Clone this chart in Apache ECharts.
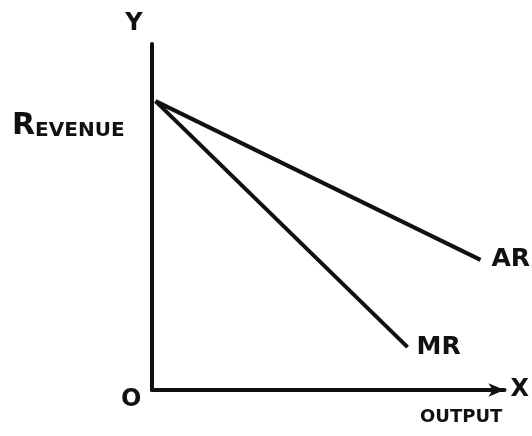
<!DOCTYPE html>
<html>
<head>
<meta charset="utf-8">
<script src="https://cdn.jsdelivr.net/npm/echarts@6/dist/echarts.min.js"></script>
<style>
  html, body { margin: 0; padding: 0; background: #fff; }
  #chart { width: 532px; height: 436px; }
</style>
</head>
<body>
<div id="chart"></div>
<script>
// curve data (output, revenue) on a 0..100 scale
const arPoints = [[1, 83.5], [93.2, 37.6]];
const mrPoints = [[1, 83.5], [72.5, 12.4]];
const curveNames = ["AR", "MR"];

const chart = echarts.init(document.getElementById("chart"));
const ink = "#111";
const hand = "'DejaVu Sans', sans-serif";

chart.setOption({
  backgroundColor: "#fff",
  animation: false,
  grid: { left: 152, right: 27, top: 44, bottom: 46 },
  xAxis: {
    type: "value",
    min: 0,
    max: 100,
    name: "X",
    nameGap: 6,
    nameTextStyle: { color: ink, fontSize: 24, fontFamily: hand, fontWeight: "bold", verticalAlign: "middle", padding: [0, 0, 10, 0] },
    axisLine: {
      show: true,
      symbol: ["none", "arrow"],
      symbolSize: [10, 16],
      lineStyle: { color: ink, width: 4 },
    },
    axisTick: { show: false },
    axisLabel: { show: false },
    splitLine: { show: false },
  },
  yAxis: {
    type: "value",
    min: 0,
    max: 100,
    name: "Y",
    nameGap: 8,
    nameTextStyle: { color: ink, fontSize: 24, fontFamily: hand, fontWeight: "bold", padding: [0, 36, 0, 0] },
    axisLine: { show: true, lineStyle: { color: ink, width: 4 } },
    axisTick: { show: false },
    axisLabel: { show: false },
    splitLine: { show: false },
  },
  graphic: [
    {
      type: "text",
      left: 12,
      top: 111,
      style: {
        text: "{b|R}{s|EVENUE}",
        rich: {
          b: { fontSize: 30, fontFamily: hand, fill: ink, fontWeight: "bold", verticalAlign: "bottom" },
          s: { fontSize: 20, fontFamily: hand, fill: ink, fontWeight: "bold", verticalAlign: "bottom" },
        },
      },
    },
    {
      type: "text",
      left: 121,
      top: 388,
      style: { text: "O", fontSize: 24, fontFamily: hand, fontWeight: "bold", fill: ink },
    },
    {
      type: "text",
      left: 420,
      top: 408,
      style: { text: "OUTPUT", fontSize: 18, fontFamily: hand, fontWeight: "bold", fill: ink },
    },
  ],
  series: [
    {
      name: curveNames[0],
      type: "line",
      data: arPoints,
      showSymbol: false,
      lineStyle: { color: ink, width: 4 },
      endLabel: {
        show: true,
        formatter: curveNames[0],
        color: ink,
        fontSize: 25,
        fontWeight: "bold",
        fontFamily: hand,
        distance: 11,
      },
    },
    {
      name: curveNames[1],
      type: "line",
      data: mrPoints,
      showSymbol: false,
      lineStyle: { color: ink, width: 4 },
      endLabel: {
        show: true,
        formatter: curveNames[1],
        color: ink,
        fontSize: 25,
        fontWeight: "bold",
        fontFamily: hand,
        distance: 9,
      },
    },
  ],
});
</script>
</body>
</html>
